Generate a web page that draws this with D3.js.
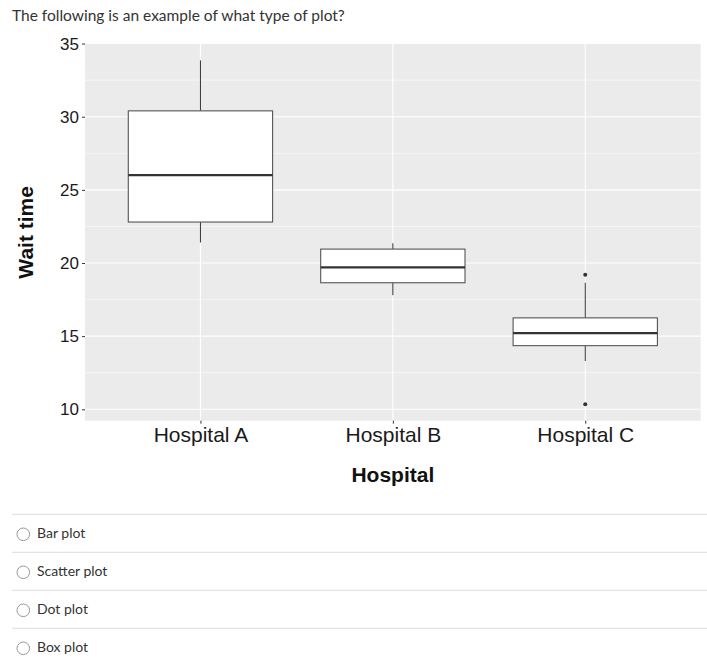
<!DOCTYPE html>
<html>
<head>
<meta charset="utf-8">
<script src="https://cdn.jsdelivr.net/npm/d3@7"></script>
<style>
  body { margin: 0; background: #fff; }
</style>
</head>
<body>
<div id="chart"></div>
<script>
var width = 707
var height = 669

// box plot values
var hospitals = ["Hospital A", "Hospital B", "Hospital C"]
var whiskerLow = [21.4, 17.8, 13.3]
var q1 = [22.8, 18.65, 14.35]
var median = [26.0, 19.7, 15.2]
var q3 = [30.4, 20.95, 16.25]
var whiskerHigh = [33.85, 21.35, 18.65]
var outliers = [[], [], [19.2, 10.35]]
var yTicks = [10, 15, 20, 25, 30, 35]
var yMinor = [12.5, 17.5, 22.5, 27.5, 32.5]
var options = ["Bar plot", "Scatter plot", "Dot plot", "Box plot"]

var panel = {left: 85, right: 700.7, top: 44, bottom: 420.7}

var svg = d3.select("#chart").append("svg")
    .attr("width", width)
    .attr("height", height);

svg.append("text")
    .text("The following is an example of what type of plot?")
    .attr("x", 12)
    .attr("y", 21)
    .attr("font-family", "Lato")
    .attr("font-size", "15.5px")
    .attr("fill", "#333");

var x = d3.scalePoint()
    .domain(hospitals)
    .range([panel.left, panel.right])
    .padding(0.6);

var y = d3.scaleLinear()
    .domain([9.22, 34.97])
    .range([panel.bottom, panel.top]);

var boxW = x.step() * 0.75;

svg.append("rect")
    .attr("x", panel.left)
    .attr("y", panel.top)
    .attr("width", panel.right - panel.left)
    .attr("height", panel.bottom - panel.top)
    .attr("fill", "#ebebeb");

// grid
svg.selectAll(".minor")
    .data(yMinor)
    .enter().append("line")
    .attr("x1", panel.left).attr("x2", panel.right)
    .attr("y1", function(d) { return y(d); })
    .attr("y2", function(d) { return y(d); })
    .attr("stroke", "#fff")
    .attr("stroke-width", 0.55);

svg.selectAll(".major")
    .data(yTicks.filter(function(d) { return y(d) >= panel.top - 1; }))
    .enter().append("line")
    .attr("x1", panel.left).attr("x2", panel.right)
    .attr("y1", function(d) { return y(d); })
    .attr("y2", function(d) { return y(d); })
    .attr("stroke", "#fff")
    .attr("stroke-width", 1.1);

svg.selectAll(".vmajor")
    .data(hospitals)
    .enter().append("line")
    .attr("x1", function(d) { return x(d); })
    .attr("x2", function(d) { return x(d); })
    .attr("y1", panel.top).attr("y2", panel.bottom)
    .attr("stroke", "#fff")
    .attr("stroke-width", 1.1);

// boxes
var box = svg.selectAll(".box")
    .data(hospitals)
    .enter().append("g")
    .attr("class", "box");

box.append("line")
    .attr("x1", function(d) { return x(d); })
    .attr("x2", function(d) { return x(d); })
    .attr("y1", function(d, i) { return y(whiskerHigh[i]); })
    .attr("y2", function(d, i) { return y(q3[i]); })
    .attr("stroke", "#333")
    .attr("stroke-width", 1);

box.append("line")
    .attr("x1", function(d) { return x(d); })
    .attr("x2", function(d) { return x(d); })
    .attr("y1", function(d, i) { return y(q1[i]); })
    .attr("y2", function(d, i) { return y(whiskerLow[i]); })
    .attr("stroke", "#333")
    .attr("stroke-width", 1);

box.append("rect")
    .attr("x", function(d) { return x(d) - boxW / 2; })
    .attr("width", boxW)
    .attr("y", function(d, i) { return y(q3[i]); })
    .attr("height", function(d, i) { return y(q1[i]) - y(q3[i]); })
    .attr("fill", "#fff")
    .attr("stroke", "#555")
    .attr("stroke-width", 1.1);

box.append("line")
    .attr("x1", function(d) { return x(d) - boxW / 2; })
    .attr("x2", function(d) { return x(d) + boxW / 2; })
    .attr("y1", function(d, i) { return y(median[i]); })
    .attr("y2", function(d, i) { return y(median[i]); })
    .attr("stroke", "#333")
    .attr("stroke-width", 2.2);

box.selectAll(".outlier")
    .data(function(d, i) { return outliers[i].map(function(v) { return {h: d, v: v}; }); })
    .enter().append("circle")
    .attr("cx", function(d) { return x(d.h); })
    .attr("cy", function(d) { return y(d.v); })
    .attr("r", 2)
    .attr("fill", "#333");

// axes
var yAxis = svg.append("g")
    .attr("transform", "translate(" + panel.left + ",0)")
    .call(d3.axisLeft(y).tickValues(yTicks).tickSize(3).tickPadding(3));
yAxis.select(".domain").remove();
yAxis.selectAll("line").attr("stroke", "#333");
yAxis.selectAll("text")
    .attr("font-family", "Liberation Sans, Arial, sans-serif")
    .attr("font-size", "17px")
    .attr("fill", "#1a1a1a");

var xAxis = svg.append("g")
    .attr("transform", "translate(0," + panel.bottom + ")")
    .call(d3.axisBottom(x).tickSize(3).tickPadding(3));
xAxis.select(".domain").remove();
xAxis.selectAll("line").attr("stroke", "#333");
xAxis.selectAll("text")
    .attr("font-family", "Liberation Sans, Arial, sans-serif")
    .attr("font-size", "21px")
    .attr("fill", "#1a1a1a");

svg.append("text")
    .text("Hospital")
    .attr("x", (panel.left + panel.right) / 2)
    .attr("y", 482)
    .attr("text-anchor", "middle")
    .attr("font-family", "Liberation Sans, Arial, sans-serif")
    .attr("font-size", "21px")
    .attr("font-weight", "bold")
    .attr("fill", "#111");

svg.append("text")
    .text("Wait time")
    .attr("x", -(panel.top + panel.bottom) / 2)
    .attr("y", 33)
    .attr("text-anchor", "middle")
    .attr("transform", "rotate(-90)")
    .attr("font-family", "Liberation Sans, Arial, sans-serif")
    .attr("font-size", "21px")
    .attr("font-weight", "bold")
    .attr("fill", "#111");

// answer choices
var opt = svg.selectAll(".opt")
    .data(options)
    .enter().append("g")
    .attr("class", "opt")
    .attr("transform", function(d, i) { return "translate(0," + (514.3 + i * 38) + ")"; });

opt.append("line")
    .attr("x1", 12).attr("x2", width)
    .attr("y1", 0).attr("y2", 0)
    .attr("stroke", "#ddd")
    .attr("stroke-width", 1);

opt.append("circle")
    .attr("cx", 23.3)
    .attr("cy", 20)
    .attr("r", 6.3)
    .attr("fill", "#fff")
    .attr("stroke", "#999")
    .attr("stroke-width", 1);

opt.append("text")
    .text(function(d) { return d; })
    .attr("x", 37)
    .attr("y", 23.5)
    .attr("font-family", "Lato")
    .attr("font-size", "14px")
    .attr("fill", "#333");
</script>
</body>
</html>
